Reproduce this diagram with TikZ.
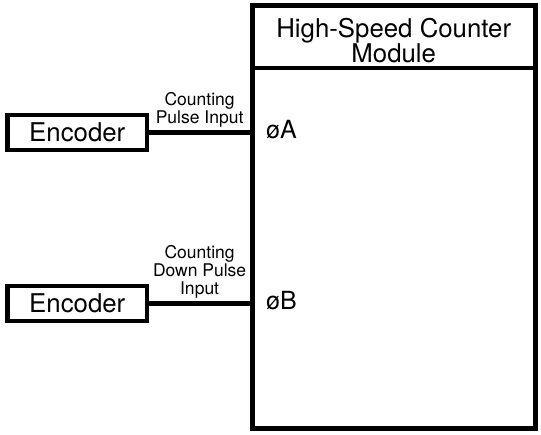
\documentclass[tikz,border=0pt]{standalone}
\usepackage{fontspec}
\setmainfont{TeX Gyre Heros}
\usepackage{tikz}
\usetikzlibrary{positioning}

\begin{document}
\begin{tikzpicture}[
    x=1pt, y=-1pt,
    every node/.style={font=\fontsize{25.8}{24}\selectfont},
    encbox/.style={rectangle, draw, line width=4.5pt, minimum width=139.5pt,
                   minimum height=35pt, inner sep=0pt},
    modbox/.style={rectangle, draw, line width=5pt, minimum width=282.5pt,
                   minimum height=423pt, inner sep=0pt},
    wire/.style={line width=4.5pt},
    lbl/.style={font=\fontsize{17.5}{18}\selectfont, align=center, inner sep=2.5pt},
    pin/.style={font=\fontsize{25}{25}\selectfont, inner sep=0pt, anchor=base west},
  ]
  \useasboundingbox (0,0) rectangle (541,434);
  \node[modbox] (module) at (393.75, 216.5) {};
  \node[align=center, inner sep=0pt] (title) at (393.75, 40.5) {High-Speed Counter\\Module};
  \draw[wire] ([yshift=-65.5pt]module.north west) -- ([yshift=-65.5pt]module.north east);
  \node[encbox] (enc1) at (77.25, 132.5) {Encoder};
  \node[encbox] (enc2) at (77.25, 303.5) {Encoder};
  \node[pin] (phA) at (266, 138) {øA};
  \node[pin] (phB) at (266, 309) {øB};
  \draw[wire] (enc1.east) -- node[lbl, above] {Counting\\Pulse Input} (enc1 -| module.west);
  \draw[wire] (enc2.east) -- node[lbl, above] {Counting\\Down Pulse\\Input} (enc2 -| module.west);
\end{tikzpicture}
\end{document}
